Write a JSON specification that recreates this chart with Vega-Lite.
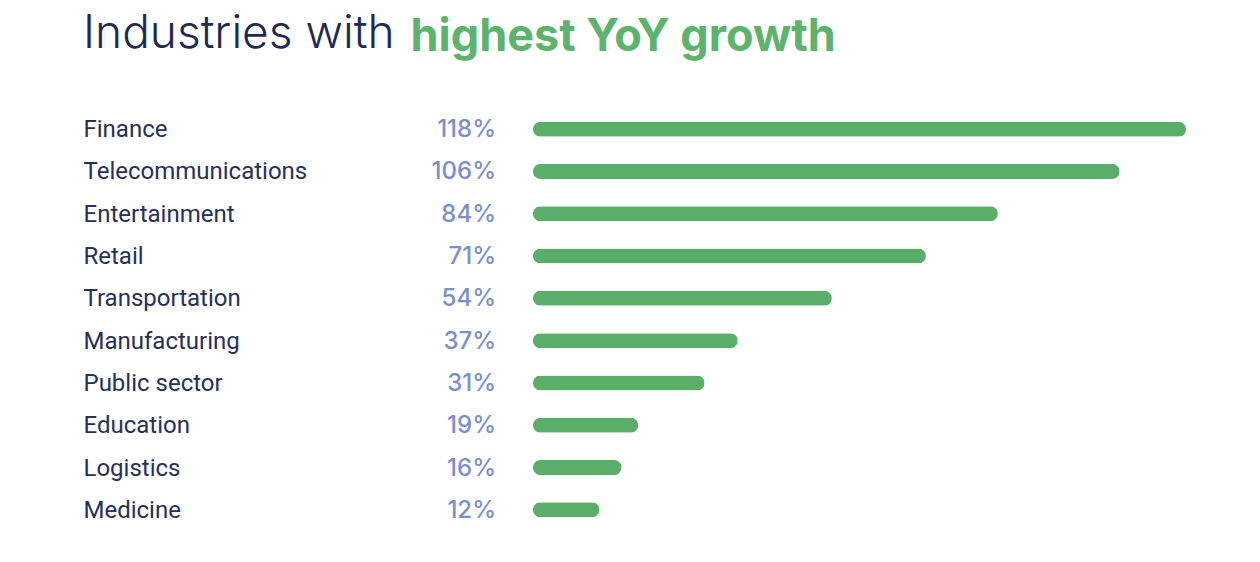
{
  "$schema": "https://vega.github.io/schema/vega-lite/v6.json",
  "autosize": "none",
  "width": 653,
  "height": 423,
  "padding": {"left": 533, "top": 108, "right": 74, "bottom": 31},
  "background": "white",
  "title": {
    "text": "Industries with",
    "anchor": "start",
    "frame": "group",
    "dx": -450,
    "offset": -80,
    "baseline": "alphabetic",
    "font": "Inter",
    "fontSize": 46,
    "fontWeight": 300,
    "color": "#1e2a55"
  },
  "config": {"view": {"stroke": null}},
  "data": {
    "values": [
      {"industry": "Finance", "growth": 1.18},
      {"industry": "Telecommunications", "growth": 1.06},
      {"industry": "Entertainment", "growth": 0.84},
      {"industry": "Retail", "growth": 0.71},
      {"industry": "Transportation", "growth": 0.54},
      {"industry": "Manufacturing", "growth": 0.37},
      {"industry": "Public sector", "growth": 0.31},
      {"industry": "Education", "growth": 0.19},
      {"industry": "Logistics", "growth": 0.16},
      {"industry": "Medicine", "growth": 0.12}
    ]
  },
  "encoding": {
    "y": {
      "field": "industry",
      "type": "nominal",
      "sort": null,
      "scale": {"paddingInner": 0, "paddingOuter": 0},
      "axis": {
        "orient": "left",
        "title": null,
        "domain": false,
        "ticks": false,
        "tickSize": 0,
        "labelAlign": "left",
        "labelBaseline": "middle",
        "labelPadding": 450,
        "labelOffset": 1,
        "labelLimit": 400,
        "labelFont": "Roboto",
        "labelFontSize": 24,
        "labelColor": "#27305a"
      }
    }
  },
  "layer": [
    {
      "mark": {"type": "bar", "height": 15, "cornerRadius": 7.5, "color": "#5aae6a"},
      "encoding": {
        "x": {
          "field": "growth",
          "type": "quantitative",
          "scale": {"domain": [0, 1.18], "nice": false, "zero": true},
          "axis": {
            "orient": "top",
            "title": "highest YoY growth",
            "titleX": -123,
            "titleY": -58,
            "titleAlign": "left",
            "titleAnchor": null,
            "titleBaseline": "alphabetic",
            "titleFont": "Inter",
            "titleFontSize": 45,
            "titleFontWeight": "bold",
            "titleColor": "#5cb46c",
            "domain": false,
            "ticks": false,
            "labels": false,
            "grid": false
          }
        }
      }
    },
    {
      "mark": {"type": "text", "align": "right", "baseline": "middle", "dx": -37, "dy": 1, "font": "Inter", "fontWeight": 500, "fontSize": 24, "color": "#7a8ecf"},
      "encoding": {
        "x": {"datum": 0, "type": "quantitative"},
        "text": {"field": "growth", "type": "quantitative", "format": ".0%"}
      }
    }
  ]
}
